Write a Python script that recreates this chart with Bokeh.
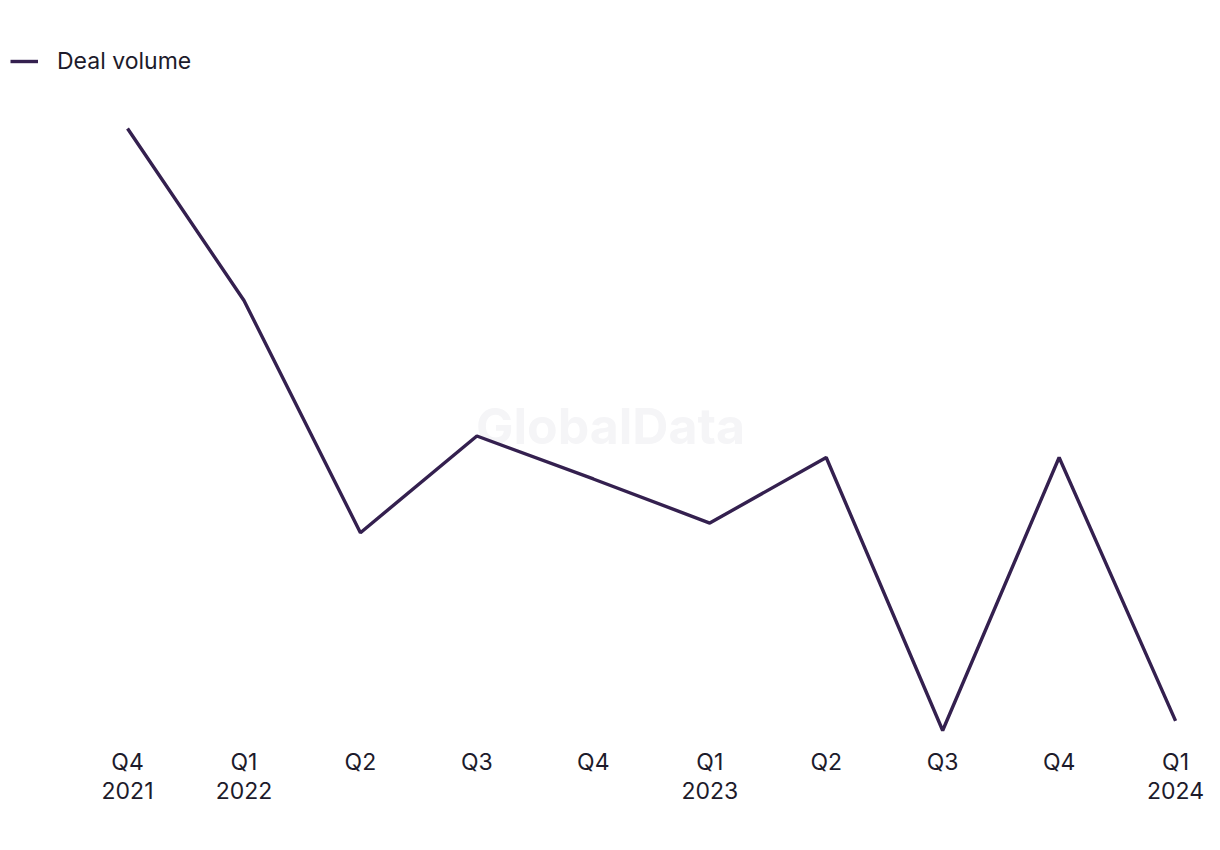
from bokeh.plotting import figure
from bokeh.models import Range1d, Legend, LegendItem, FixedTicker
from bokeh.core.properties import value
from bokeh.embed import file_html
from bokeh.resources import INLINE

quarters = ["Q4\n2021", "Q1\n2022", "Q2", "Q3", "Q4", "Q1\n2023", "Q2", "Q3", "Q4", "Q1\n2024"]
deal_volume = [96, 80, 58.4, 67.4, 63.4, 59.3, 65.4, 40, 65.4, 40.9]
series_name = "Deal volume"
watermark = "GlobalData"

xs = list(range(len(quarters)))
FONT = "Inter"
TEXT = "#1d1b2b"
LINE = "#34204f"

p = figure(width=1220, height=850, output_backend="svg", toolbar_location=None,
           x_range=Range1d(-1.005, 9.30), y_range=Range1d(39.07, 104.19),
           min_border_left=10, min_border_right=10, min_border_top=40, min_border_bottom=110)
p.xgrid.visible = False
p.ygrid.visible = False
p.yaxis.visible = False
p.outline_line_color = None
p.background_fill_color = "white"
p.border_fill_color = "white"

# watermark
p.text(x=[4.148], y=[68.37], text=[watermark], text_align="center", text_baseline="middle",
       text_font=value(FONT), text_font_size="50px", text_font_style="bold", text_color="#f5f5f7")

r = p.line(xs, deal_volume, line_color=LINE, line_width=3.4)

ax = p.xaxis[0]
ax.ticker = FixedTicker(ticks=xs)
ax.major_label_overrides = {i: q for i, q in enumerate(quarters)}
ax.axis_line_color = None
ax.major_tick_line_color = None
ax.minor_tick_line_color = None
ax.major_label_text_font = FONT
ax.major_label_text_font_size = "23px"
ax.major_label_text_color = TEXT
ax.major_label_text_line_height = 1.05
ax.major_label_standoff = 1

legend = Legend(items=[LegendItem(label=series_name, renderers=[r])], location="top_left",
                margin=0, padding=2, glyph_width=28, glyph_height=42, label_height=42,
                label_standoff=19, label_text_font=FONT, label_text_font_size="23px",
                label_text_color=TEXT, border_line_color=None, background_fill_alpha=0)
p.add_layout(legend)

open("out.html", "w").write(file_html(p, INLINE))
